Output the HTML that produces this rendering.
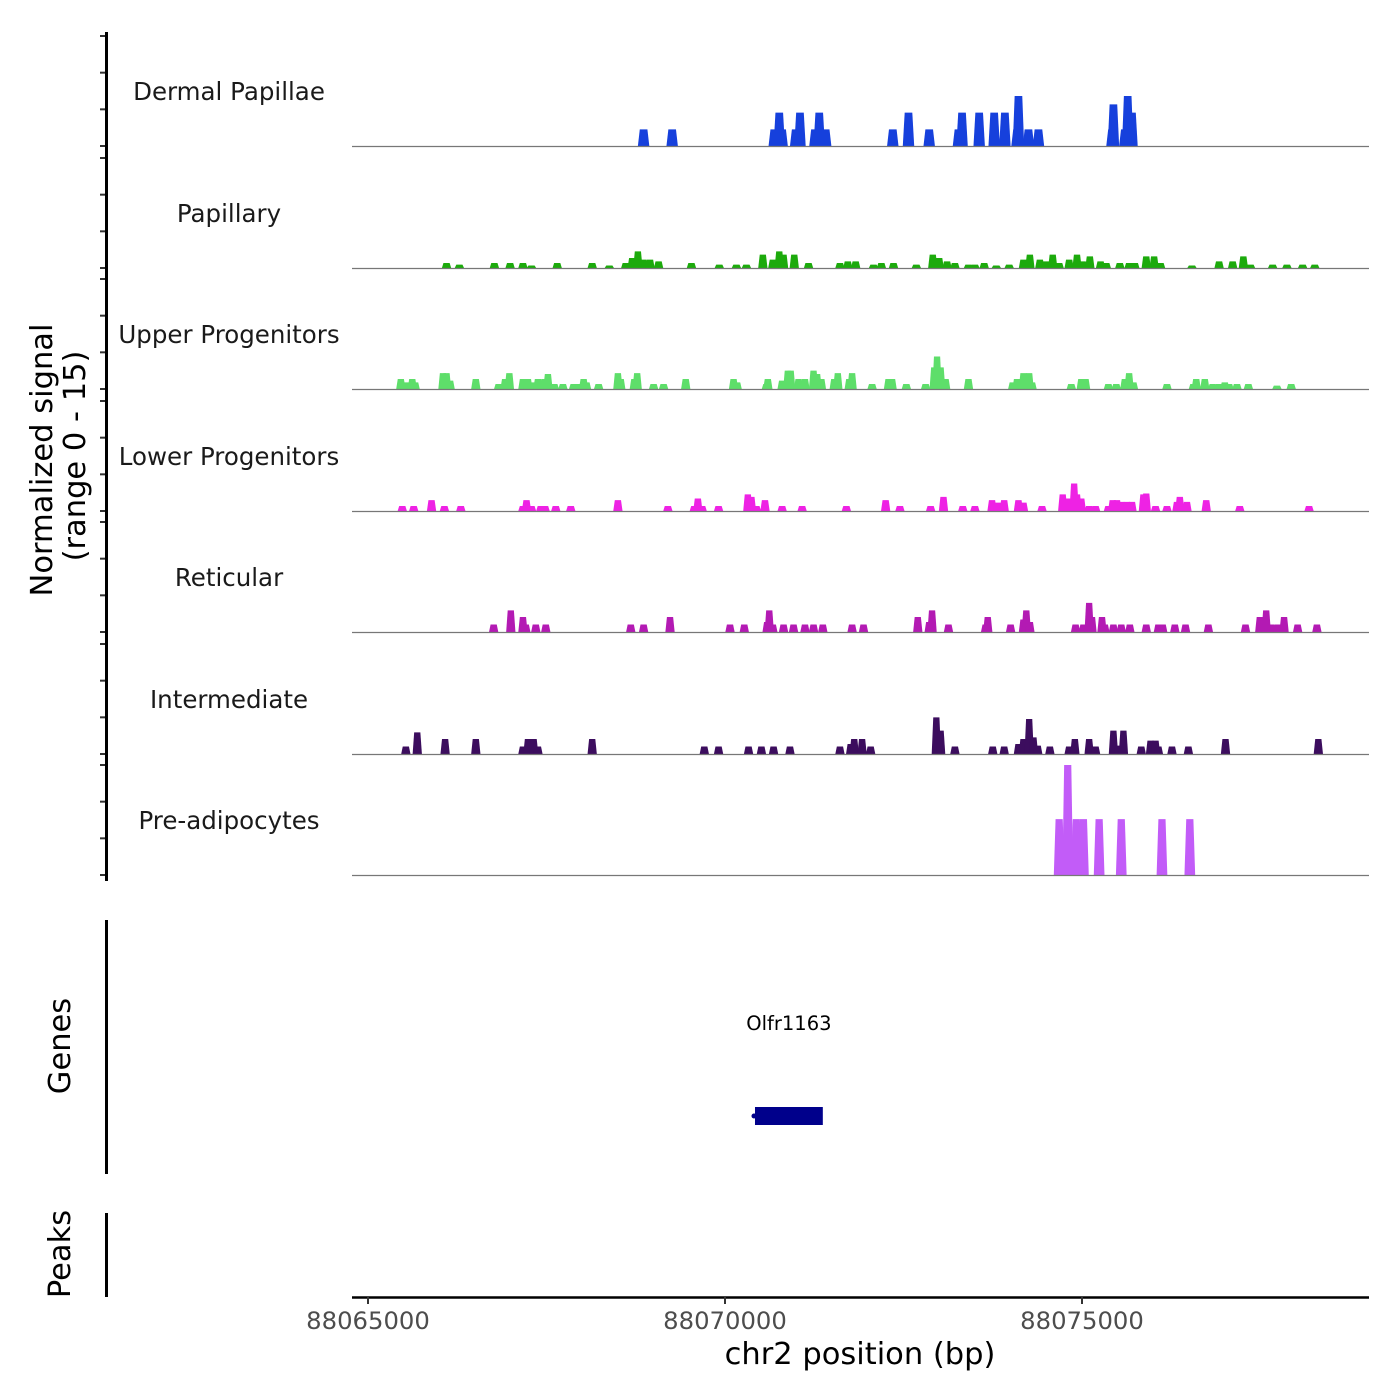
<!DOCTYPE html>
<html><head><meta charset="utf-8"><style>
html,body{margin:0;padding:0;background:#fff;}
svg{display:block;font-family:"DejaVu Sans","Liberation Sans",sans-serif;}
</style></head><body>
<svg id="chart" width="1400" height="1400" viewBox="0 0 1400 1400" xmlns="http://www.w3.org/2000/svg" style="position:absolute;left:0;top:0">
<g id="tracks"></g>
<g id="axes"></g>
<text x="860" y="1364" text-anchor="middle" font-size="30.5" fill="#000">chr2 position (bp)</text>
<text transform="translate(52,460) rotate(-90)" text-anchor="middle" font-size="30.5" fill="#000">Normalized signal</text>
<text transform="translate(85,456) rotate(-90)" text-anchor="middle" font-size="30.5" fill="#000">(range 0 - 15)</text>
<text transform="translate(70,1046) rotate(-90)" text-anchor="middle" font-size="30.5" fill="#000">Genes</text>
<text transform="translate(70,1254) rotate(-90)" text-anchor="middle" font-size="30.5" fill="#000">Peaks</text>
</svg>
<script>
// ---- data: positions in kb offset from 88,065,000 (chr2); heights = normalized signal ----
const trackNames = ["Dermal Papillae","Papillary","Upper Progenitors","Lower Progenitors","Reticular","Intermediate","Pre-adipocytes"];
const trackColors = ["#1640dc","#1caa0c","#5ede6a","#ee22e4","#b31ab3","#3c0d5e","#c25cf8"];
const dermalPos = [3.86,4.26,5.69,5.76,5.80,5.99,6.05,6.26,6.32,6.41,7.35,7.57,7.86,8.27,8.32,8.56,8.77,8.92,9.09,9.11,9.25,9.39,10.42,10.44,10.60,10.64,10.70];
const dermalVal = [2,2,2,4,2,2,4,2,4,2,2,4,2,2,4,4,4,4,2,6,2,2,2,5,2,6,4];
const papillaryPos = [1.10,1.28,1.77,1.99,2.17,2.29,2.65,3.14,3.38,3.61,3.70,3.78,3.86,3.95,4.07,4.53,4.92,5.16,5.30,5.53,5.67,5.76,5.82,5.97,6.17,6.61,6.72,6.83,7.08,7.19,7.36,7.68,7.91,8.00,8.11,8.22,8.41,8.50,8.63,8.80,8.98,9.18,9.27,9.41,9.50,9.59,9.68,9.82,9.93,10.01,10.11,10.26,10.34,10.53,10.66,10.74,10.90,11.01,11.10,11.54,11.92,12.11,12.26,12.36,12.67,12.87,13.09,13.26];
const papillaryVal = [0.6,0.4,0.6,0.6,0.6,0.3,0.6,0.6,0.3,0.6,1.2,2,1,1,0.8,0.6,0.4,0.4,0.4,1.6,1,2,1.6,1.6,0.6,0.6,0.8,0.8,0.4,0.6,0.6,0.4,1.6,1.2,0.8,0.6,0.4,0.4,0.6,0.3,0.4,1,1.6,1,0.8,1.6,0.6,1,1.6,0.8,1.4,0.8,0.6,0.6,0.6,0.6,1.4,1.4,0.6,0.3,0.8,0.8,1.4,0.4,0.4,0.4,0.4,0.4];
const upperPos = [0.46,0.55,0.62,0.66,1.05,1.10,1.15,1.51,1.83,1.92,1.98,2.17,2.24,2.32,2.38,2.47,2.52,2.61,2.73,2.88,2.93,3.02,3.06,3.23,3.50,3.54,3.73,3.77,4.00,4.14,4.45,5.12,5.17,5.58,5.60,5.80,5.88,5.92,6.03,6.12,6.24,6.29,6.35,6.53,6.58,6.74,6.78,7.06,7.29,7.34,7.54,7.81,7.93,7.97,8.02,8.09,8.41,9.03,9.09,9.18,9.26,9.30,9.85,9.99,10.05,10.37,10.48,10.60,10.66,10.72,11.19,11.56,11.60,11.72,11.83,11.92,12.00,12.06,12.17,12.33,12.73,12.93];
const upperVal = [1.2,0.8,1.2,0.8,1.9,1.9,1,1.2,0.6,1.2,1.9,1.2,1.2,0.8,1.2,1.2,1.8,0.6,0.6,0.6,0.6,1.2,0.8,0.6,1.9,1.2,1.2,1.9,0.6,0.6,1.2,1.2,0.8,0.6,1.2,1,2.2,2.2,1.2,1.2,2.2,1.8,1.2,1.2,1.9,1.2,1.9,0.6,1.2,1.2,0.6,0.6,2.6,3.9,2.6,1.2,1.2,0.8,1.2,1.9,1.9,0.8,0.6,1.2,1.2,0.6,0.6,1.2,1.9,0.8,0.6,0.6,1.2,1.2,0.6,0.6,0.8,0.6,0.6,0.6,0.4,0.6];
const lowerPos = [0.48,0.64,0.89,1.07,1.30,2.17,2.22,2.29,2.42,2.48,2.63,2.84,3.50,4.20,4.57,4.62,4.68,4.91,5.32,5.37,5.44,5.56,5.80,6.08,6.70,7.25,7.45,7.88,8.06,8.33,8.50,8.74,8.82,8.91,9.11,9.18,9.44,9.73,9.82,9.89,9.93,9.99,10.10,10.19,10.37,10.43,10.49,10.55,10.63,10.70,10.86,10.90,11.03,11.19,11.33,11.37,11.47,11.74,12.21,13.18];
const lowerVal = [0.6,0.6,1.3,0.6,0.6,0.6,1.3,0.6,0.6,0.6,0.6,0.6,1.3,0.6,0.6,1.5,0.6,0.6,2,1.7,0.6,1.3,0.6,0.6,0.6,1.3,0.6,0.6,1.7,0.6,0.6,1.3,1,1.3,1.3,1,0.6,2,1.5,3.3,2,1.5,0.6,0.6,0.6,1.3,1.3,1.1,1.1,1.1,2,2.1,0.6,0.6,1.1,1.7,1.1,1.3,0.6,0.6];
const reticularPos = [1.76,2.00,2.17,2.21,2.35,2.49,3.68,3.86,4.23,5.07,5.27,5.59,5.62,5.67,5.82,5.96,6.12,6.24,6.37,6.78,6.94,7.70,7.86,7.90,8.13,8.65,8.68,9.00,9.18,9.22,9.27,9.91,10.02,10.10,10.14,10.28,10.32,10.44,10.55,10.67,10.90,11.07,11.13,11.30,11.45,11.77,12.29,12.49,12.58,12.65,12.74,12.83,13.02,13.29];
const reticularVal = [0.9,2.6,1.8,0.9,0.9,0.9,0.9,0.9,1.8,0.9,0.9,1.2,2.6,0.9,0.9,0.9,0.9,0.9,0.9,0.9,0.9,1.8,1.2,2.6,0.9,0.9,1.8,0.9,1.5,2.6,1.2,0.9,0.9,3.5,1.8,1.8,0.9,0.9,0.9,0.9,0.9,0.9,0.9,0.9,0.9,0.9,0.9,1.8,2.6,0.9,0.9,1.8,0.9,0.9];
const intermediatePos = [0.53,0.69,1.08,1.51,2.17,2.24,2.32,2.38,3.14,4.71,4.91,5.33,5.51,5.68,5.91,6.61,6.76,6.81,6.92,7.04,7.96,8.02,8.22,8.75,8.91,9.11,9.18,9.26,9.32,9.38,9.55,9.82,9.90,10.10,10.19,10.44,10.51,10.58,10.83,10.96,11.03,11.07,11.26,11.49,12.01,13.31];
const intermediateVal = [0.9,2.6,1.8,1.8,0.9,1.8,1.8,0.9,1.8,0.9,0.9,0.9,0.9,0.9,0.9,0.9,1.2,1.8,1.8,0.9,4.4,2.8,0.9,0.9,0.9,1.2,1.8,4.2,2,1,0.9,0.9,1.8,1.8,0.9,2.8,1,2.8,0.9,1.6,1.6,0.9,0.9,0.9,1.8,1.8];
const preadipPos = [9.68,9.80,9.92,10.02,10.24,10.55,11.12,11.51];
const preadipVal = [6.7,13.2,6.7,6.7,6.7,6.7,6.7,6.7];
const xTickLabels = ["88065000","88070000","88075000"];
const xTickKb = [0,5,10];
const genePos = [5.42,6.37];
const geneName = "Olfr1163";

// ---- layout ----
const NS = "http://www.w3.org/2000/svg";
const X0 = 368, PX_PER_KB = 71.4, PL = 352, PR = 1369;
const xs = kb => X0 + kb * PX_PER_KB;
const baselines = [146,268,389,511,632,754,875];
const Y_MAX = 13.2, Y_PX = 110;
const ys = (v, b) => b - v / Y_MAX * Y_PX;
const posArr = [dermalPos,papillaryPos,upperPos,lowerPos,reticularPos,intermediatePos,preadipPos];
const valArr = [dermalVal,papillaryVal,upperVal,lowerVal,reticularVal,intermediateVal,preadipVal];
const widths = [0.16,0.13,0.13,0.13,0.13,0.13,0.15];
function mk(tag, attrs, parent){const e=document.createElementNS(NS,tag);for(const k in attrs)e.setAttribute(k,attrs[k]);parent.appendChild(e);return e;}
const T = document.getElementById("tracks"), A = document.getElementById("axes");

trackNames.forEach((name,i)=>{
  const g = mk("g",{},T);
  
  
  const b = baselines[i];
  const lbl = mk("text",{x:229,y:b-46,"text-anchor":"middle","font-size":"24.5",fill:"#1a1a1a"},g);
  lbl.textContent = name;
  
  
  posArr[i].forEach((p,j)=>{
    const w = widths[i], x1 = xs(p - w/2), x2 = xs(p - w/3), x3 = xs(p + w/3), x4 = xs(p + w/2), yt = ys(valArr[i][j], b);
    const poly = mk("polygon",{points:`${x1},${b} ${x2},${yt} ${x3},${yt} ${x4},${b}`,fill:trackColors[i]},g);
    
    
  });
  const bl = mk("line",{x1:PL,x2:PR,y1:b+0.5,y2:b+0.5,stroke:"#777","stroke-width":1.2},g);
  
  
  [0,5,10,15].forEach(v=>{
    const ty = b - v/15*110;
    const tk = mk("line",{x1:100,x2:106,y1:ty,y2:ty,stroke:"#333","stroke-width":2},A);
    
    
  });
});

const yax = mk("line",{x1:106.5,x2:106.5,y1:32,y2:881,stroke:"#000","stroke-width":3},A);


const gax = mk("line",{x1:106.5,x2:106.5,y1:920,y2:1174,stroke:"#000","stroke-width":3},A);


const pax = mk("line",{x1:106.5,x2:106.5,y1:1213,y2:1297,stroke:"#000","stroke-width":3},A);



const gb = mk("rect",{x:xs(genePos[0]),y:1107,width:xs(genePos[1])-xs(genePos[0]),height:18,fill:"#00008b"},A);


const ga = mk("circle",{cx:xs(genePos[0])-1,cy:1116,r:2.5,fill:"#00008b"},A);


const gt = mk("text",{x:(xs(genePos[0])+xs(genePos[1]))/2,y:1030,"text-anchor":"middle","font-size":"19.5",fill:"#000"},A);
gt.textContent = geneName;



const xax = mk("line",{x1:PL,x2:PR,y1:1297.5,y2:1297.5,stroke:"#000","stroke-width":2.5},A);


xTickKb.forEach((k,i)=>{
  const t = mk("line",{x1:xs(k),x2:xs(k),y1:1297,y2:1304,stroke:"#333","stroke-width":2},A);
  
  
  const l = mk("text",{x:xs(k),y:1329,"text-anchor":"middle","font-size":"24.3",fill:"#4d4d4d"},A);
  l.textContent = xTickLabels[i];
  
  
});
</script>
</body></html>
